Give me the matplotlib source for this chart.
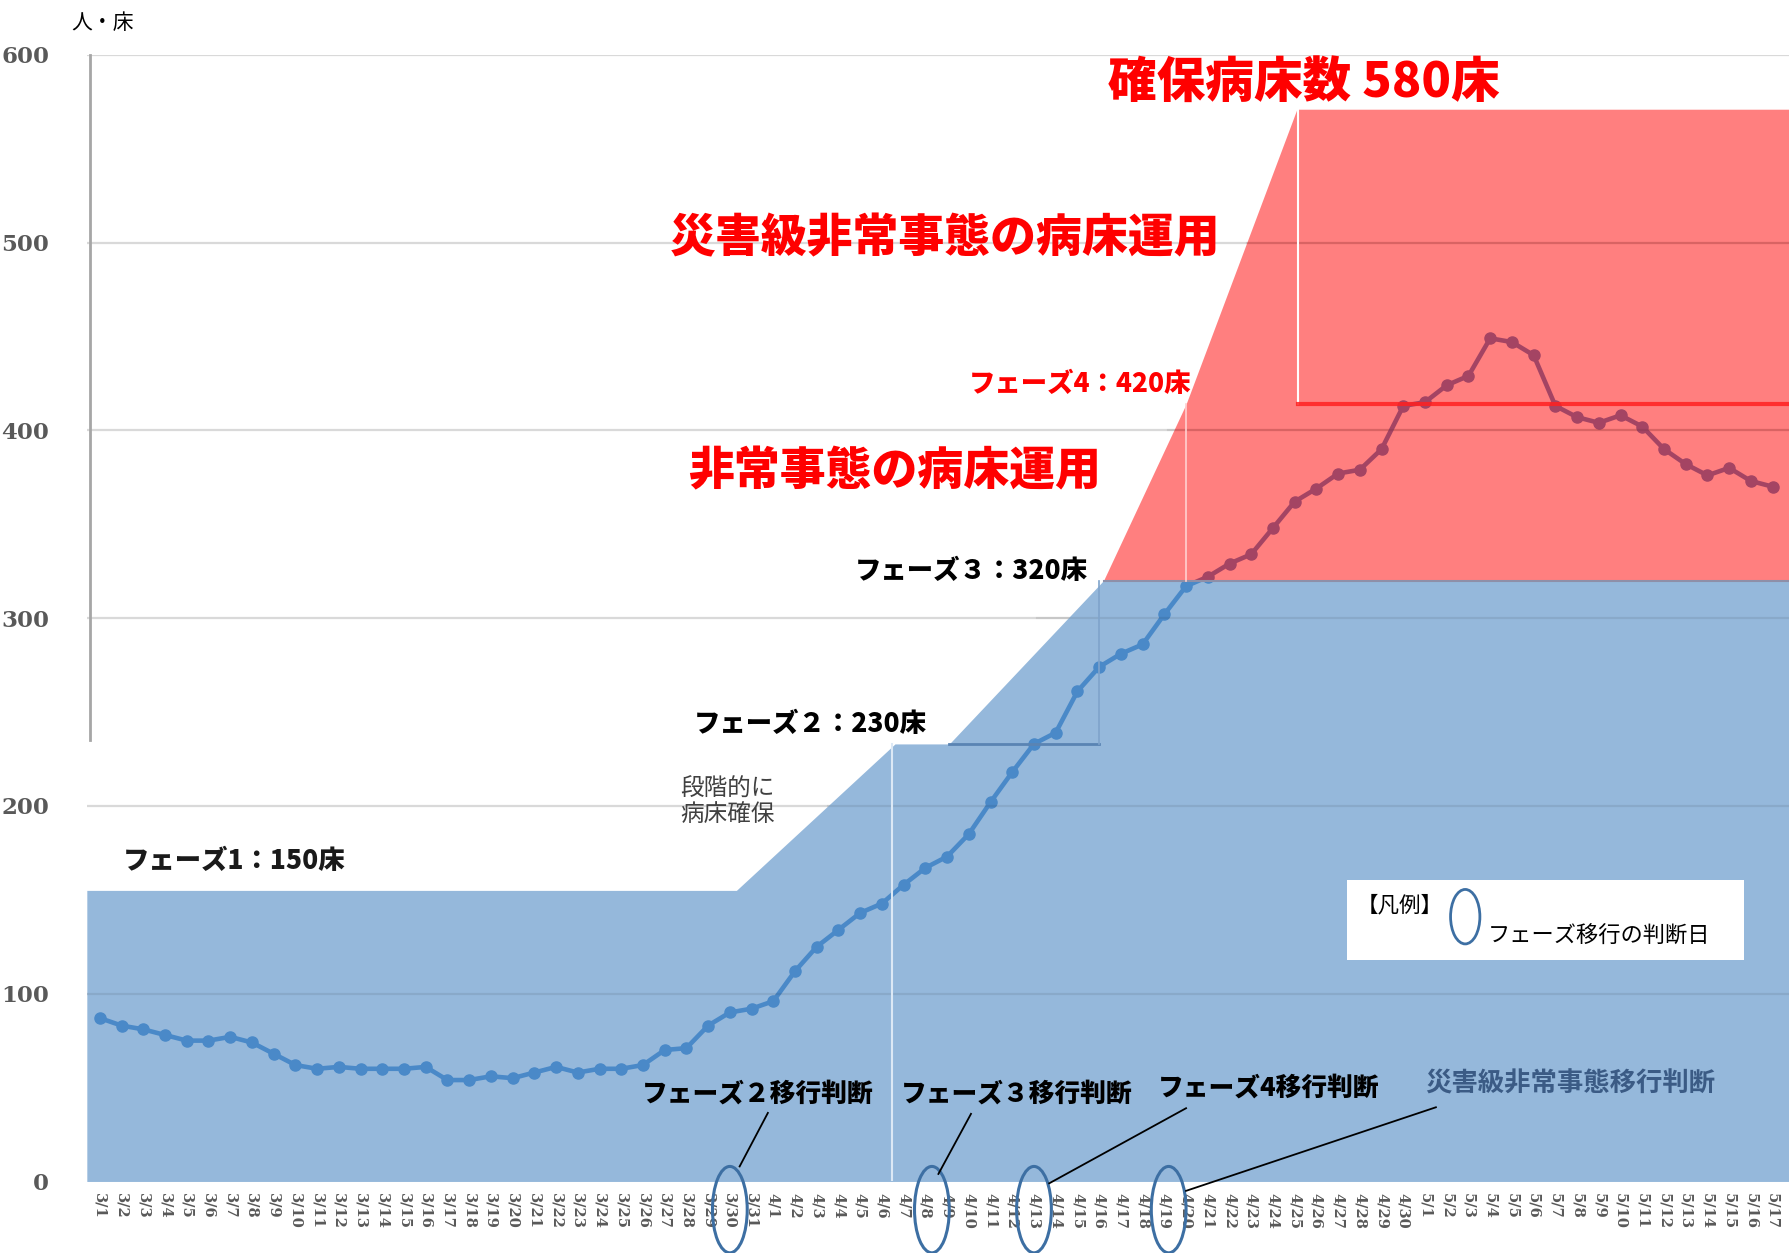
import numpy as np
import matplotlib
matplotlib.use("Agg")
import matplotlib.pyplot as plt
from matplotlib.patches import Ellipse, Rectangle

plt.rcParams['font.family'] = ['Noto Sans CJK JP', 'DejaVu Sans']

# dates 3/1 .. 5/17
date_labels = ([f"3/{d}" for d in range(1, 32)]
               + [f"4/{d}" for d in range(1, 31)]
               + [f"5/{d}" for d in range(1, 18)])

# inpatients
patients = [87, 83, 81, 78, 75, 75, 77, 74, 68, 62,
            60, 61, 60, 60, 60, 61, 54, 54, 56, 55,
            58, 61, 58, 60, 60, 62, 70, 71, 83, 90,
            92, 96, 112, 125, 134, 143, 148, 158, 167, 173,
            185, 202, 218, 233, 239, 261, 274, 281, 286, 302,
            317, 322, 329, 334, 348, 362, 369, 377, 379, 390,
            413, 415, 424, 429, 449, 447, 440, 413, 407, 404,
            408, 402, 390, 382, 376, 380, 373, 370]

# secured beds (drawn outline, x = day index from 3/1)
blue_x = [-0.6, 29.3, 36.6, 39.1, 46.2, 77.8]
blue_y = [155, 155, 233, 233, 320, 320]
red_x = [46.2, 50.0, 55.1, 77.8]
red_y = [320, 414, 571, 571]
phase4_level = 414

# days with phase decision (3/30, 4/8, 4/13, 4/19)
decision_days = [29, 38.3, 43, 49.2]

x = np.arange(len(patients))

fig = plt.figure(figsize=(17.9, 12.53), dpi=100)
ax = fig.add_axes([0.0485, 0.0571, 0.9515, 0.8992])
ax.set_xlim(-0.6, 77.8)
ax.set_ylim(0, 600)

# grid
for g in [100, 200, 300, 400, 500, 600]:
    ax.axhline(g, color="#D9D9D9", lw=1.6, zorder=1)

# blue area
ax.fill_between(blue_x, 0, blue_y, color="#95B8DB", lw=0, zorder=2)
# red area
ax.fill_between(red_x, 320, red_y, color="#FF0000", alpha=0.5, lw=0, zorder=5)

# patients line
ax.plot(x, patients, color="#4A89C8", lw=3.3, marker="o", ms=8, zorder=4)

# grid on top of the coloured areas (faint)
outline_x = blue_x[:-2] + red_x[1:]
outline_y = blue_y[:-2] + red_y[1:]
for g in [100, 200, 300, 400, 500]:
    if g < outline_y[0]:
        x_start = -0.6
    else:
        x_start = np.interp(g, outline_y[1:], outline_x[1:])
    ax.plot([x_start, 77.8], [g, g], color="black", alpha=0.08, lw=1.6, zorder=6)

# step lines
ax.plot([36.45, 36.45], [0, 233], color="#DCE8F5", lw=1.5, zorder=6)
ax.plot([39.1, 46.0], [233, 233], color="#5A84B3", lw=2, zorder=6)
ax.plot([46.0, 46.0], [233, 320], color="#7FA3CB", lw=1.2, zorder=6)
ax.plot([46.2, 77.8], [320, 320], color="#8E8FA8", lw=1.5, zorder=6)
ax.plot([50.0, 50.0], [320, 414], color="#FFD0D0", lw=1.2, zorder=6)
ax.plot([55.15, 55.15], [414, 571], color="white", lw=1.5, zorder=6)
ax.plot([55.15, 77.8], [phase4_level, phase4_level], color="#FF2020", lw=3, alpha=0.85, zorder=6)

# y axis line
ax.plot([-0.47, -0.47], [235, 600], color="#A6A6A6", lw=2, zorder=6, clip_on=False)

for s in ax.spines.values():
    s.set_visible(False)

ax.set_yticks([0, 100, 200, 300, 400, 500, 600])
ax.set_yticklabels([0, 100, 200, 300, 400, 500, 600],
                   family="DejaVu Serif", fontweight="bold", fontsize=16.5, color="#595959")
ax.tick_params(axis="y", length=0, pad=27)

ax.set_xticks(x)
ax.set_xticklabels(date_labels, rotation=270, family="DejaVu Serif",
                   fontsize=10.5, color="#595959", fontweight="bold")
ax.tick_params(axis="x", length=0, pad=8)

# ellipses marking decision days
for d in decision_days:
    e = Ellipse((d, -15), 1.6, 46, fill=False, ec="#3D6FA3", lw=2.2,
                zorder=8, clip_on=False)
    ax.add_patch(e)

# leader lines
leaders = [((29.45, 8), (30.75, 36.5)),
           ((38.6, 4), (40.1, 36)),
           ((43.7, -1), (50.0, 39)),
           ((50.0, -5), (61.5, 39.5))]
for (x0, y0), (x1, y1) in leaders:
    ax.plot([x0, x1], [y0, y1], color="black", lw=1.3, zorder=8, clip_on=False)

# texts
ax.text(55.4, 585, "確保病床数 580床", color="#FF0000", fontsize=35,
        fontweight="heavy", ha="center", va="center", zorder=9)
ax.text(38.9, 502, "災害級非常事態の病床運用", color="#FF0000", fontsize=33,
        fontweight="heavy", ha="center", va="center", zorder=9)
ax.text(45.1, 425, "フェーズ4：420床", color="#FF0000", fontsize=19,
        fontweight="heavy", ha="center", va="center", zorder=9)
ax.text(36.6, 378, "非常事態の病床運用", color="#FF0000", fontsize=33,
        fontweight="heavy", ha="center", va="center", zorder=9)
ax.text(40.1, 325, "フェーズ３：320床", color="black", fontsize=19,
        fontweight="heavy", ha="center", va="center", zorder=9)
ax.text(32.7, 244, "フェーズ２：230床", color="black", fontsize=19,
        fontweight="heavy", ha="center", va="center", zorder=9)
ax.text(26.7, 202, "段階的に\n病床確保", color="#404040", fontsize=17,
        ha="left", va="center", linespacing=1.15, zorder=9)
ax.text(6.2, 171, "フェーズ1：150床", color="#1A1A1A", fontsize=19,
        fontweight="heavy", ha="center", va="center", zorder=9)

ax.text(30.3, 47, "フェーズ２移行判断", color="black", fontsize=18.5,
        fontweight="heavy", ha="center", va="center", zorder=9)
ax.text(42.2, 47, "フェーズ３移行判断", color="black", fontsize=18.5,
        fontweight="heavy", ha="center", va="center", zorder=9)
ax.text(53.8, 50, "フェーズ4移行判断", color="black", fontsize=18.5,
        fontweight="heavy", ha="center", va="center", zorder=9)
ax.text(67.7, 52, "災害級非常事態移行判断", color="#3B5B85", fontsize=19,
        fontweight="bold", ha="center", va="center", zorder=9)

# legend box
ax.add_patch(Rectangle((57.4, 118), 18.3, 42.5, fc="white", ec="none", zorder=9))
ax.text(57.85, 147, "【凡例】", fontsize=15.5, ha="left", va="center", zorder=10)
ax.add_patch(Ellipse((62.85, 141), 1.35, 29, fill=False, ec="#3D6FA3",
                     lw=2, zorder=10))
ax.text(63.9, 130.5, "フェーズ移行の判断日", fontsize=16, ha="left",
        va="center", zorder=10)

fig.text(71 / 1790, 1 - 23 / 1253, "人・床", fontsize=15, ha="left", va="center")

fig.savefig("out.png", dpi=100)
